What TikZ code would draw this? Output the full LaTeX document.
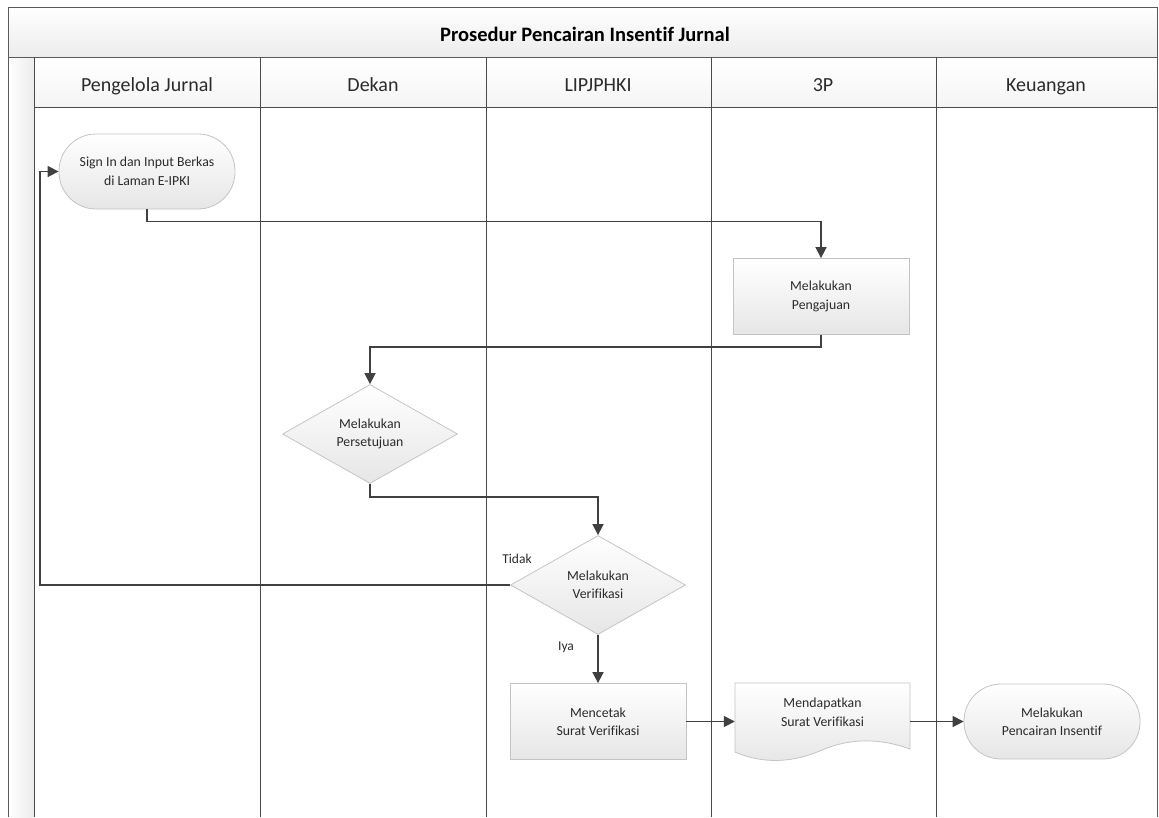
\documentclass[tikz,border=0pt]{standalone}
\usepackage{fontspec}
\setmainfont[Ligatures=NoCommon]{Carlito}
\usetikzlibrary{shapes.geometric,arrows.meta}
\definecolor{framec}{HTML}{5A5A5A}
\definecolor{lanec}{HTML}{4A4A4A}
\definecolor{shapeb}{HTML}{C4C4C4}
\definecolor{shadef}{HTML}{E6E6E6}
\definecolor{connc}{HTML}{404040}
\definecolor{txt}{HTML}{2B2B2B}
\definecolor{bandb}{HTML}{ECECEC}
\begin{document}
\begin{tikzpicture}[x=1pt,y=-1pt,
  box/.style={draw=shapeb, top color=white, bottom color=shadef, line width=0.8pt, align=center, font=\fontsize{13.8}{18.5}\selectfont, text=txt, inner sep=0pt},
  proc/.style={box, rectangle, minimum width=176pt, minimum height=76pt},
  term/.style={box, rectangle, rounded corners=37pt, minimum width=176pt, minimum height=75pt},
  dec/.style={box, diamond, aspect=1.77, minimum width=175pt, minimum height=99pt},
  conn/.style={draw=connc, line width=1.6pt, -{Triangle[length=11pt,width=11pt]}},
  lane/.style={draw=lanec, line width=1pt},
  hdr/.style={font=\fontsize{20}{24}\selectfont, text=txt, anchor=base, inner sep=0pt},
  lbl/.style={font=\fontsize{13.5}{16}\selectfont, text=txt, inner sep=0pt}]
\useasboundingbox (0,0) rectangle (1159,817);
% pool background
\shade[top color=white, bottom color=bandb] (8,7) rectangle (1157,57);
\shade[left color=white, right color=bandb] (8,57) rectangle (34,817);
\shade[top color=white, bottom color=white!96!black] (34,57) rectangle (1157,107);
% frame
\draw[draw=framec, line width=1pt] (8,817) -- (8,7) -- (1157,7) -- (1157,817);
\draw[draw=framec, line width=1pt] (8,57) -- (1157,57);
\draw[lane] (34,107) -- (1157,107);
\foreach \x in {34,260,486,711,936} \draw[lane] (\x,57) -- (\x,817);
% titles
\node[font=\fontsize{20.5}{24}\selectfont\bfseries, text=black, anchor=base, inner sep=0pt] (title) at (585,41) {Prosedur Pencairan Insentif Jurnal};
\node[hdr] (h1) at (147,91) {Pengelola Jurnal};
\node[hdr] (h2) at (373,91) {Dekan};
\node[hdr] (h3) at (598,91) {LIPJPHKI};
\node[hdr] (h4) at (823,91) {3P};
\node[hdr] (h5) at (1046,91) {Keuangan};
% shapes
\node[term] (sign) at (147,171.5) {Sign In dan Input Berkas\\di Laman E-IPKI};
\node[proc] (peng) at (821,296.5) {Melakukan\\Pengajuan};
\node[dec] (pers) at (370,434) {Melakukan\\Persetujuan};
\node[dec] (verif) at (598,585) {Melakukan\\Verifikasi};
\node[proc] (cetak) at (598,721.5) {Mencetak\\Surat Verifikasi};
\shade[draw=shapeb, line width=0.8pt, top color=white, bottom color=shadef]
  (735,683) -- (910,683) -- (910,749)
  .. controls (880,738) and (850,738) .. (822,750)
  .. controls (795,762) and (765,765) .. (735,752) -- cycle;
\node[minimum width=175pt, minimum height=77pt, inner sep=0pt] (doc) at (822.5,721.5) {};
\node[align=center, font=\fontsize{13.8}{18.5}\selectfont, text=txt, inner sep=0pt] (doctext) at (822.5,712) {Mendapatkan\\Surat Verifikasi};
\node[term] (cair) at (1052,721.5) {Melakukan\\Pencairan Insentif};
% connectors
\coordinate (loopx) at (40,0);
\draw[conn] (sign.south) -- ++(0,12) -| (peng.north);
\draw[conn] (peng.south) -- ++(0,12) -| (pers.north);
\draw[conn] (pers.south) -- ++(0,13) -| (verif.north);
\draw[conn] (verif.west) -- (verif.west -| loopx) |- (sign.west);
\draw[conn] (verif.south) -- (cetak.north);
\draw[conn] (cetak.east) -- (doc.west);
\draw[conn] (doc.east) -- (cair.west);
% labels
\node[lbl] (tidak) at (517,559) {Tidak};
\node[lbl] (iya) at (566,647) {Iya};
\end{tikzpicture}
\end{document}
